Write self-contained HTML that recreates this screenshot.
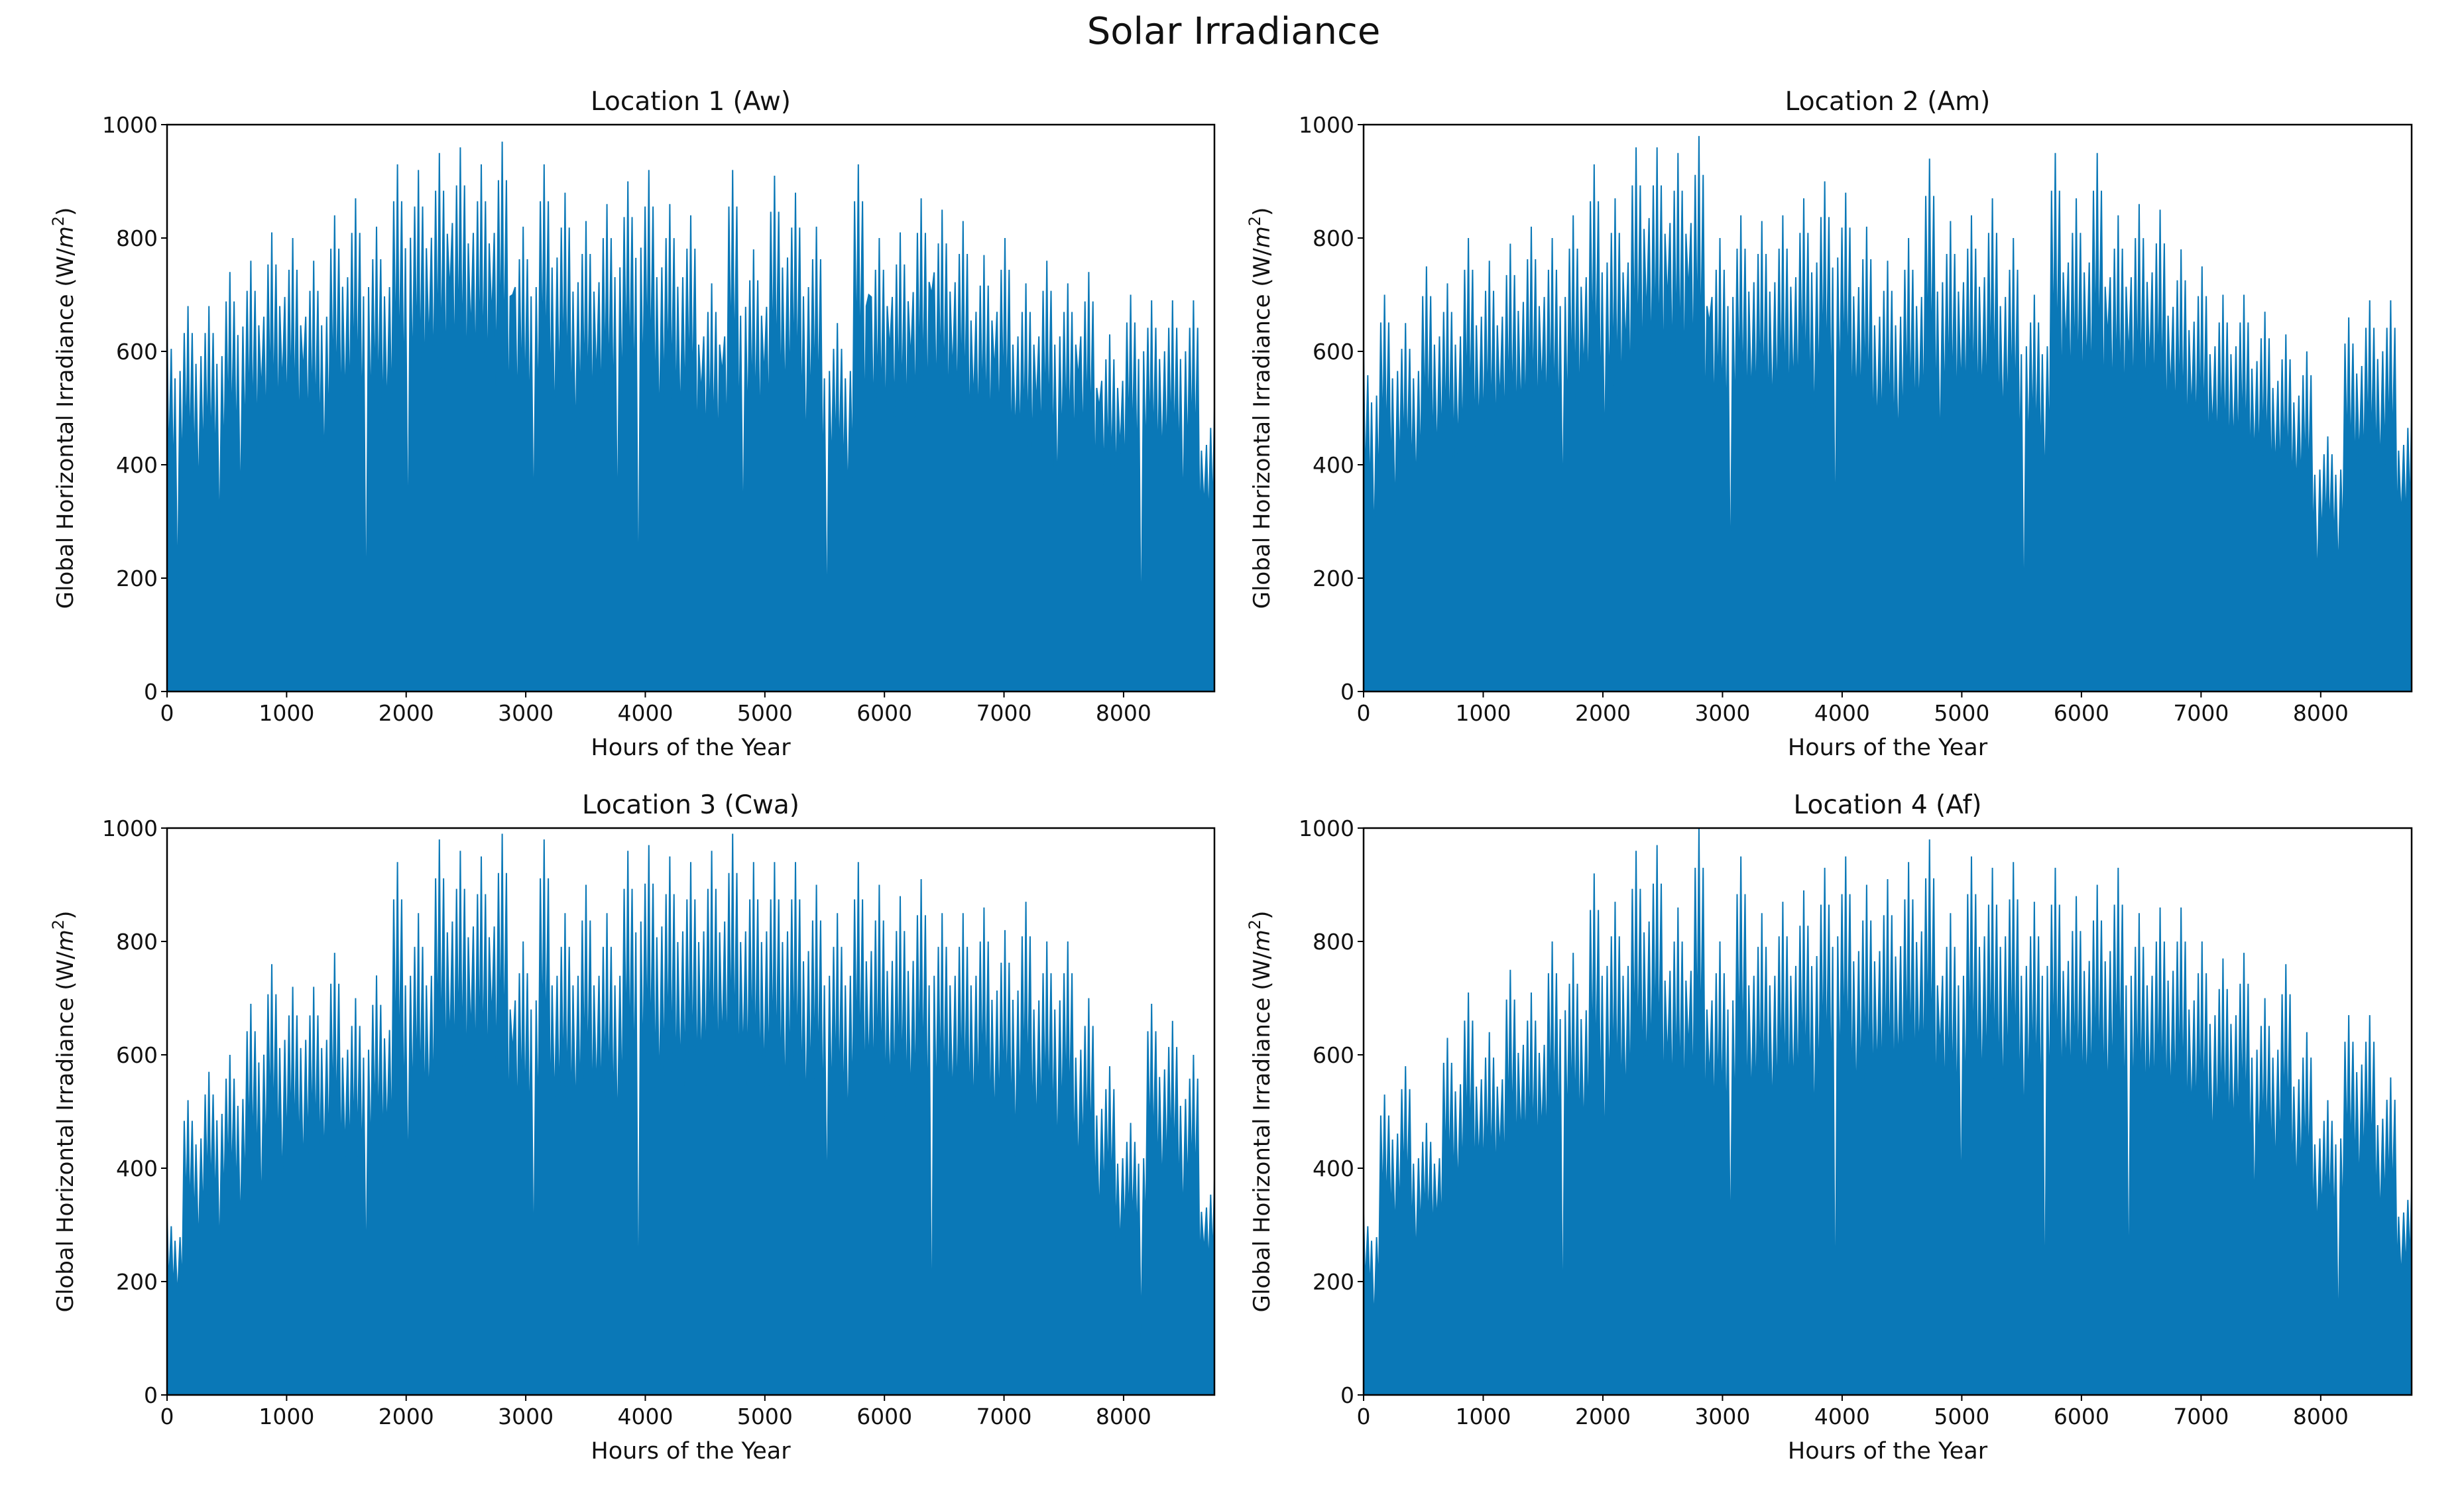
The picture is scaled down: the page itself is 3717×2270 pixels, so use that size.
<!DOCTYPE html>
<html><head><meta charset="utf-8"><style>
html,body{margin:0;padding:0;background:#fff;}
svg{display:block;}
text{font-family:"DejaVu Sans","Liberation Sans",sans-serif;fill:#111;}
</style></head><body>
<svg id="fig" width="3717" height="2270" viewBox="0 0 3717 2270" xmlns="http://www.w3.org/2000/svg">
<text x="1861" y="66" font-size="56" text-anchor="middle">Solar Irradiance</text>
</svg>
<script>
const xTicks=[0,1000,2000,3000,4000,5000,6000,7000,8000];
const yTicks=[0,200,400,600,800,1000];
const titles=["Location 1 (Aw)","Location 2 (Am)","Location 3 (Cwa)","Location 4 (Af)"];
const highs1=[650,680,680,740,760,810,800,760,840,870,820,930,920,950,960,930,970,820,930,880,830,860,900,920,860,840,720,920,780,910,880,820,650,930,800,810,870,850,830,770,800,720,760,720,740,630,700,690,690,690,500];
const lows1=[150,330,250,300,520,530,560,380,500,70,480,210,600,700,620,650,700,260,450,430,540,250,80,450,460,520,560,240,550,500,400,80,330,700,600,580,700,550,500,560,440,500,330,550,500,420,50,400,300,320];
const highs2=[600,700,650,750,720,800,760,790,820,800,840,930,870,960,960,950,980,800,840,830,840,870,900,880,820,760,800,940,830,840,870,800,700,950,870,950,840,860,850,780,750,700,700,670,630,600,450,660,690,690,500];
const lows2=[250,300,350,400,420,450,500,480,520,300,550,400,600,650,680,700,650,150,500,480,520,450,230,500,450,420,480,400,520,500,460,80,350,600,560,620,580,560,520,480,450,420,400,380,350,180,200,400,380,300];
const highs3=[320,520,570,600,690,760,720,720,780,700,740,940,850,980,960,950,990,800,980,850,900,850,960,970,950,940,960,990,940,940,940,900,850,940,900,880,910,850,850,860,820,870,800,800,700,580,480,690,660,600,380];
const lows3=[170,250,230,280,300,350,380,400,420,180,450,350,500,600,620,650,600,190,500,480,520,450,60,520,550,560,600,580,540,500,480,300,450,560,520,500,40,500,480,460,420,450,400,380,300,250,90,350,300,250];
const highs4=[320,530,580,480,630,710,640,750,710,800,780,920,870,960,970,860,1000,800,950,850,870,890,930,950,900,910,940,980,850,950,930,940,870,930,880,900,930,850,860,860,800,770,780,700,760,640,520,670,670,560,370];
const lows4=[120,280,230,300,350,400,420,440,450,60,450,400,500,550,580,600,550,220,500,480,520,450,70,500,550,560,580,600,300,520,500,450,90,560,520,500,120,520,500,480,420,450,300,380,350,280,70,350,300,200];
const highsAll=[highs1,highs2,highs3,highs4];
const lowsAll=[lows1,lows2,lows3,lows4];
const XMAX=8760, YMAX=1000;
const boxes=[{l:252,r:1832,t:188,b:1043},{l:2057,r:3638,t:188,b:1043},{l:252,r:1832,t:1249,b:2104},{l:2057,r:3638,t:1249,b:2104}];
const NS="http://www.w3.org/2000/svg";
const svg=document.getElementById('fig');
function mk(tag,attrs,parent){const e=document.createElementNS(NS,tag);for(const k in attrs)e.setAttribute(k,attrs[k]);(parent||svg).appendChild(e);return e;}
boxes.forEach((bx,pi)=>{
  const g=mk('g',{});
  
  
  const sx=v=>bx.l+(v/XMAX)*(bx.r-bx.l);
  const sy=v=>bx.b-(v/YMAX)*(bx.b-bx.t);
  const hi=highsAll[pi], lo=lowsAll[pi];
  const step=XMAX/(hi.length-1);
  let pts=[sx(0)+','+sy(0)];
  for(let i=0;i<hi.length;i++){
    pts.push(sx(i*step)+','+sy(hi[i]));
    if(i<lo.length){
      const m=Math.min(hi[i],hi[i+1]);
      pts.push(sx(i*step+step*0.08)+','+sy(hi[i]*0.6));
      pts.push(sx(i*step+step*0.2)+','+sy(hi[i]*0.93));
      pts.push(sx(i*step+step*0.3)+','+sy(m*0.55));
      pts.push(sx(i*step+step*0.38)+','+sy(m*0.85));
      pts.push(sx(i*step+step*0.5)+','+sy(lo[i]));
      pts.push(sx(i*step+step*0.62)+','+sy(m*0.87));
      pts.push(sx(i*step+step*0.72)+','+sy(m*0.58));
      pts.push(sx(i*step+step*0.82)+','+sy(hi[i+1]*0.93));
      pts.push(sx(i*step+step*0.92)+','+sy(hi[i+1]*0.62));
    }
  }
  pts.push(sx(XMAX)+','+sy(0));
  const area=mk('polygon',{points:pts.join(' '),fill:'#0a78b7',stroke:'#0a78b7','stroke-width':2},g);
  
  
  const frame=mk('rect',{x:bx.l,y:bx.t,width:bx.r-bx.l,height:bx.b-bx.t,fill:'none',stroke:'#000','stroke-width':2.5},g);
  
  
  xTicks.forEach(t=>{
    mk('line',{x1:sx(t),x2:sx(t),y1:bx.b,y2:bx.b+9,stroke:'#000','stroke-width':2},g);
    const tx=mk('text',{x:sx(t),y:bx.b+44,'font-size':33,'text-anchor':'middle'},g);
    tx.textContent=t;
    
    
  });
  yTicks.forEach(t=>{
    mk('line',{x1:bx.l-9,x2:bx.l,y1:sy(t),y2:sy(t),stroke:'#000','stroke-width':2},g);
    const ty=mk('text',{x:bx.l-14,y:sy(t)+12,'font-size':33,'text-anchor':'end'},g);
    ty.textContent=t;
    
    
  });
  const ti=mk('text',{x:(bx.l+bx.r)/2,y:bx.t-22,'font-size':39,'text-anchor':'middle'},g);
  ti.textContent=titles[pi];
  
  
  const xl=mk('text',{x:(bx.l+bx.r)/2,y:bx.b+96,'font-size':35,'text-anchor':'middle'},g);
  xl.textContent='Hours of the Year';
  
  
  const cy=(bx.t+bx.b)/2, cx=bx.l-142;
  const yl=mk('text',{x:cx,y:cy,'font-size':34,'text-anchor':'middle',transform:'rotate(-90 '+cx+' '+cy+')'},g);
  
  
  yl.innerHTML='Global Horizontal Irradiance (W/<tspan font-style="italic">m</tspan><tspan dy="-14" font-size="24">2</tspan><tspan dy="14">)</tspan>';
});
</script>
</body></html>
